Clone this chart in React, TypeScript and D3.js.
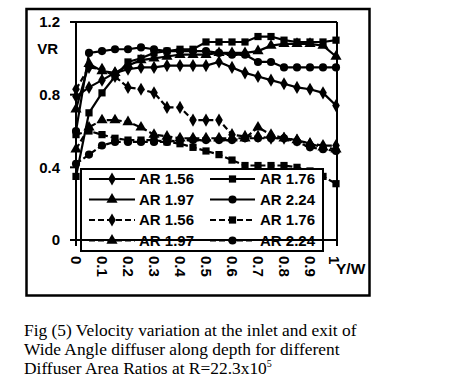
import React from "react";
import * as d3 from "d3";

const xValues = [0, 0.05, 0.1, 0.15, 0.2, 0.25, 0.3, 0.35, 0.4, 0.45, 0.5, 0.55, 0.6, 0.65, 0.7, 0.75, 0.8, 0.85, 0.9, 0.95, 1];

const ar156Solid = [0.79, 0.84, 0.88, 0.92, 0.94, 0.95, 0.95, 0.96, 0.96, 0.96, 0.96, 0.98, 0.95, 0.92, 0.9, 0.88, 0.86, 0.84, 0.83, 0.81, 0.74];
const ar176Solid = [0.35, 0.7, 0.81, 0.9, 0.98, 1.0, 1.03, 1.04, 1.05, 1.05, 1.09, 1.09, 1.09, 1.09, 1.12, 1.12, 1.1, 1.09, 1.09, 1.09, 1.1];
const ar197Solid = [0.72, 0.97, 0.93, 0.92, 0.96, 0.99, 1.0, 1.01, 1.02, 1.02, 1.02, 1.03, 1.03, 1.03, 1.04, 1.07, 1.08, 1.08, 1.08, 1.07, 1.01];
const ar224Solid = [0.6, 1.03, 1.04, 1.05, 1.05, 1.06, 1.05, 1.04, 1.04, 1.04, 1.04, 1.03, 1.02, 1.02, 0.98, 0.98, 0.95, 0.95, 0.95, 0.95, 0.95];

const ar156Dashed = [0.83, 0.95, 0.94, 0.9, 0.84, 0.83, 0.81, 0.73, 0.73, 0.66, 0.66, 0.66, 0.58, 0.57, 0.57, 0.56, 0.56, 0.55, 0.53, 0.52, 0.52];
const ar176Dashed = [0.58, 0.6, 0.58, 0.56, 0.55, 0.55, 0.55, 0.54, 0.53, 0.51, 0.49, 0.47, 0.44, 0.41, 0.41, 0.41, 0.41, 0.4, 0.38, 0.35, 0.31];
const ar197Dashed = [0.5, 0.62, 0.66, 0.66, 0.65, 0.62, 0.58, 0.57, 0.56, 0.56, 0.56, 0.56, 0.56, 0.56, 0.62, 0.58, 0.56, 0.55, 0.53, 0.51, 0.5];
const ar224Dashed = [0.42, 0.47, 0.52, 0.54, 0.54, 0.54, 0.54, 0.54, 0.55, 0.55, 0.55, 0.55, 0.55, 0.56, 0.56, 0.56, 0.56, 0.54, 0.51, 0.5, 0.49];

const seriesNames = ["AR 1.56", "AR 1.76", "AR 1.97", "AR 2.24", "AR 1.56", "AR 1.76", "AR 1.97", "AR 2.24"];
const seriesValues = [ar156Solid, ar176Solid, ar197Solid, ar224Solid, ar156Dashed, ar176Dashed, ar197Dashed, ar224Dashed];
const seriesDashed = [false, false, false, false, true, true, true, true];
const seriesMarkers = ["diamond", "square", "triangle", "circle", "diamond", "square", "triangle", "circle"];

const yTicks = [0, 0.4, 0.8, 1.2];
const xTicks = [0, 0.1, 0.2, 0.3, 0.4, 0.5, 0.6, 0.7, 0.8, 0.9, 1];
const yTitle = "VR";
const xTitle = "Y/W";
const captionLines = [
  "Fig (5) Velocity variation at the inlet and exit of",
  "Wide Angle diffuser along depth for different",
  "Diffuser Area Ratios at R=22.3x10",
];
const captionSup = "5";

const symbolTypes: Record<string, d3.SymbolType> = {
  diamond: d3.symbolDiamond,
  square: d3.symbolSquare,
  triangle: d3.symbolTriangle,
  circle: d3.symbolCircle,
};
const symbolSizes: Record<string, number> = { diamond: 50, square: 52, triangle: 54, circle: 52 };

export default function App() {
  const x = d3.scaleLinear().domain([0, 1]).range([76, 336]);
  const y = d3.scaleLinear().domain([0, 1.2]).range([240, 22]);
  const line = d3
    .line<number>()
    .x((_, i) => x(xValues[i]))
    .y((d) => y(d));
  const sym = (m: string) => d3.symbol().type(symbolTypes[m]).size(symbolSizes[m])() || "";
  const font = "'Liberation Sans', Arial, sans-serif";

  const legendRows = [179, 199.5, 220, 240.5];
  const legendCols = [
    { x1: 89, x2: 135, tx: 139 },
    { x1: 210, x2: 255, tx: 260 },
  ];

  return (
    <svg
      width={452}
      height={377}
      style={{ position: "absolute", left: 0, top: 0, background: "#fff" }}
    >
      <rect x={0} y={0} width={452} height={377} fill="#fff" />
      <rect x={26.5} y={9} width={343} height={286.5} fill="none" stroke="#000" strokeWidth={2.5} />

      <line x1={70} x2={337} y1={y(1.2)} y2={y(1.2)} stroke="#000" strokeWidth={2} />
      <line x1={337} x2={337} y1={y(1.2)} y2={246} stroke="#000" strokeWidth={2} />

      <line x1={x(0)} x2={x(0)} y1={y(1.2)} y2={246} stroke="#000" strokeWidth={2} />
      {yTicks.map((t) => (
        <g key={t}>
          <line x1={70} x2={x(0)} y1={y(t)} y2={y(t)} stroke="#000" strokeWidth={2} />
          <text
            x={60}
            y={y(t)}
            dy="0.36em"
            textAnchor="end"
            fontFamily={font}
            fontWeight="bold"
            fontSize={15}
          >
            {String(t)}
          </text>
        </g>
      ))}
      <text x={58} y={49} dy="0.36em" textAnchor="end" fontFamily={font} fontWeight="bold" fontSize={15}>
        {yTitle}
      </text>

      {seriesValues.map((vals, s) => (
        <g key={s}>
          <path
            d={line(vals) || ""}
            fill="none"
            stroke="#000"
            strokeWidth={2.2}
            strokeDasharray={seriesDashed[s] ? "6,3" : undefined}
          />
          {vals.map((v, i) => (
            <path
              key={i}
              d={sym(seriesMarkers[s])}
              transform={`translate(${x(xValues[i])},${y(v)})`}
              fill="#000"
            />
          ))}
        </g>
      ))}

      <rect x={81} y={169} width={242} height={82} fill="#fff" stroke="#000" strokeWidth={2} />
      {seriesNames.map((name, s) => {
        const row = Math.floor(s / 2);
        const col = legendCols[s % 2];
        const ly = legendRows[row];
        return (
          <g key={s}>
            <line
              x1={col.x1}
              x2={col.x2}
              y1={ly}
              y2={ly}
              stroke="#000"
              strokeWidth={2.2}
              strokeDasharray={seriesDashed[s] ? "6,3" : undefined}
            />
            <path
              d={sym(seriesMarkers[s])}
              transform={`translate(${(col.x1 + col.x2) / 2},${ly})`}
              fill="#000"
            />
            <text x={col.tx} y={ly} dy="0.36em" fontFamily={font} fontWeight="bold" fontSize={15}>
              {name}
            </text>
          </g>
        );
      })}

      <line x1={70} x2={337} y1={y(0)} y2={y(0)} stroke="#000" strokeWidth={2} />
      {xTicks.map((t) => (
        <text
          key={t}
          transform={`translate(${x(t) - (t === 1 ? 2 : 0)},256) rotate(90)`}
          dy="0.36em"
          fontFamily={font}
          fontWeight="bold"
          fontSize={15}
        >
          {String(t)}
        </text>
      ))}
      <text x={336} y={274} fontFamily={font} fontWeight="bold" fontSize={15.5}>
        {xTitle}
      </text>

      {captionLines.map((ln, i) => (
        <text
          key={i}
          x={24}
          y={336 + i * 19}
          fontFamily="'Liberation Serif', 'Times New Roman', serif"
          fontSize={17.4}
        >
          {ln}
          {i === captionLines.length - 1 ? (
            <tspan dy={-7} fontSize={10}>
              {captionSup}
            </tspan>
          ) : null}
        </text>
      ))}
    </svg>
  );
}
